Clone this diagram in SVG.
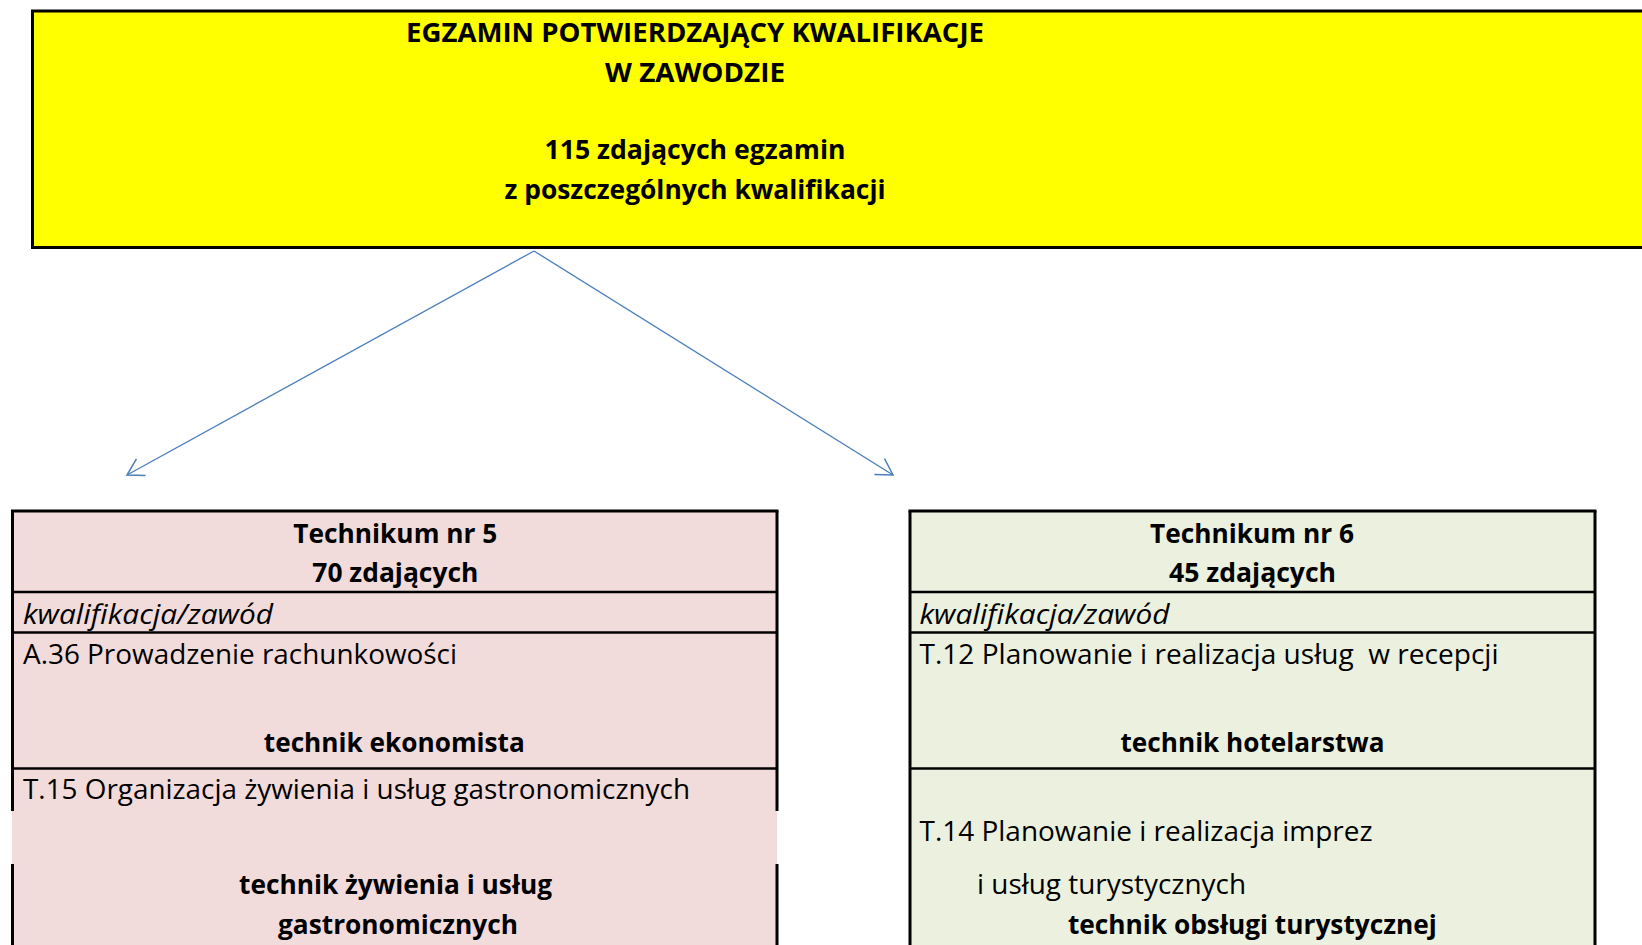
<svg xmlns="http://www.w3.org/2000/svg" width="1642" height="945" viewBox="0 0 1642 945">
<defs>
<style>
.t{font-family:"Open Sans","Noto Sans","Liberation Sans",sans-serif;font-size:27px;fill:#000}
.b{font-weight:bold}
.i{font-style:italic}
.m{text-anchor:middle}
.frame{stroke:#000;stroke-width:3;fill:none}
.ln{stroke:#000;stroke-width:2.5;fill:none}
.conn{stroke:#4A7EBB;stroke-width:1.3;fill:none}
</style>
<marker id="ah" viewBox="-20 -12 24 24" markerWidth="24" markerHeight="24" refX="0" refY="0" orient="auto" markerUnits="userSpaceOnUse">
<path d="M-16,-9.5 L0,0 L-16,9.5" fill="none" stroke="#4A7EBB" stroke-width="1.5"/>
</marker>
</defs>
<rect width="1642" height="945" fill="#fff"/>

<g id="exam">
<rect x="32.5" y="11" width="1640" height="236.5" fill="#FFFF00" stroke="#000" stroke-width="3"/>
<text class="t b m" x="695" y="42" textLength="578" lengthAdjust="spacingAndGlyphs">EGZAMIN POTWIERDZAJĄCY KWALIFIKACJE</text>
<text class="t b m" x="695" y="82" textLength="180" lengthAdjust="spacingAndGlyphs">W ZAWODZIE</text>
<text class="t b m" x="695" y="159" textLength="301" lengthAdjust="spacingAndGlyphs">115 zdających egzamin</text>
<text class="t b m" x="695" y="199" textLength="381" lengthAdjust="spacingAndGlyphs">z poszczególnych kwalifikacji</text>
</g>

<g id="connectors">
<line class="conn" x1="534" y1="251" x2="127" y2="475" marker-end="url(#ah)"/>
<line class="conn" x1="534" y1="251" x2="893" y2="475" marker-end="url(#ah)"/>
</g>

<g id="technikum5">
<rect x="12" y="511" width="765" height="450" fill="#F2DCDB"/>
<line class="frame" x1="11" y1="511" x2="778.5" y2="511"/>
<line class="frame" x1="12.5" y1="511" x2="12.5" y2="811"/>
<line class="frame" x1="12.5" y1="864" x2="12.5" y2="960"/>
<line class="frame" x1="777" y1="511" x2="777" y2="811"/>
<line class="frame" x1="777" y1="864" x2="777" y2="960"/>
<line class="ln" x1="12.5" y1="592" x2="777" y2="592"/>
<line class="ln" x1="12.5" y1="632.5" x2="777" y2="632.5"/>
<line class="ln" x1="12.5" y1="768.5" x2="777" y2="768.5"/>
<text class="t b m" x="395.3" y="543" textLength="204" lengthAdjust="spacingAndGlyphs">Technikum nr 5</text>
<text class="t b m" x="395.3" y="581.5" textLength="166" lengthAdjust="spacingAndGlyphs">70 zdających</text>
<text class="t i" x="23" y="624" textLength="250" lengthAdjust="spacingAndGlyphs">kwalifikacja/zawód</text>
<text class="t" x="23" y="664" textLength="434" lengthAdjust="spacingAndGlyphs">A.36 Prowadzenie rachunkowości</text>
<text class="t b m" x="394.3" y="752" textLength="261" lengthAdjust="spacingAndGlyphs">technik ekonomista</text>
<text class="t" x="23" y="799" textLength="667" lengthAdjust="spacingAndGlyphs">T.15 Organizacja żywienia i usług gastronomicznych</text>
<text class="t b m" x="395.5" y="894" textLength="313" lengthAdjust="spacingAndGlyphs">technik żywienia i usług</text>
<text class="t b m" x="398" y="934" textLength="240" lengthAdjust="spacingAndGlyphs">gastronomicznych</text>
</g>

<g id="technikum6">
<rect x="910" y="511" width="685" height="450" fill="#EBF1DE"/>
<line class="frame" x1="908.5" y1="511" x2="1596.5" y2="511"/>
<line class="frame" x1="910" y1="511" x2="910" y2="960"/>
<line class="frame" x1="1595" y1="511" x2="1595" y2="960"/>
<line class="ln" x1="910" y1="592" x2="1595" y2="592"/>
<line class="ln" x1="910" y1="632.5" x2="1595" y2="632.5"/>
<line class="ln" x1="910" y1="768.5" x2="1595" y2="768.5"/>
<text class="t b m" x="1252" y="543" textLength="204" lengthAdjust="spacingAndGlyphs">Technikum nr 6</text>
<text class="t b m" x="1252.5" y="581.5" textLength="167" lengthAdjust="spacingAndGlyphs">45 zdających</text>
<text class="t i" x="919.5" y="624" textLength="250" lengthAdjust="spacingAndGlyphs">kwalifikacja/zawód</text>
<text class="t" x="919.5" y="664" xml:space="preserve" textLength="579" lengthAdjust="spacingAndGlyphs">T.12 Planowanie i realizacja usług  w recepcji</text>
<text class="t b m" x="1252.5" y="752" textLength="264" lengthAdjust="spacingAndGlyphs">technik hotelarstwa</text>
<text class="t" x="919.5" y="841" textLength="453" lengthAdjust="spacingAndGlyphs">T.14 Planowanie i realizacja imprez</text>
<text class="t" x="977" y="894" textLength="269" lengthAdjust="spacingAndGlyphs">i usług turystycznych</text>
<text class="t b m" x="1252.4" y="934" textLength="369" lengthAdjust="spacingAndGlyphs">technik obsługi turystycznej</text>
</g>
</svg>
